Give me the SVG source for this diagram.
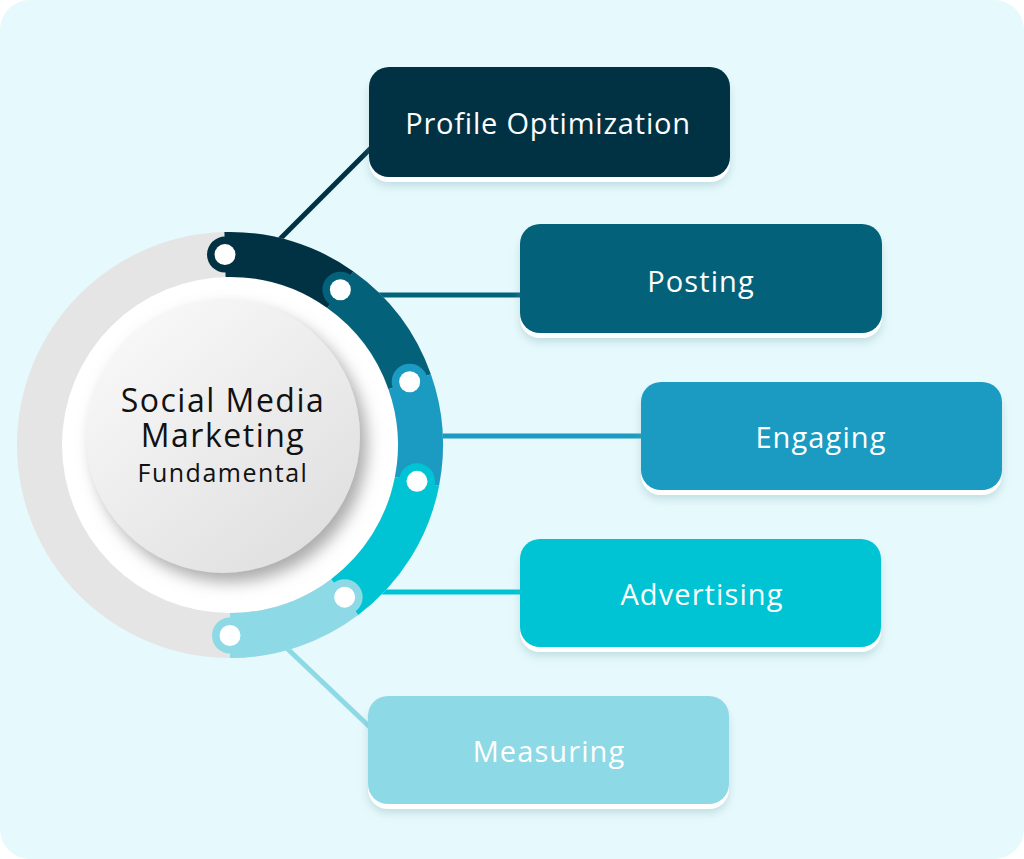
<svg xmlns="http://www.w3.org/2000/svg" width="1024" height="859" viewBox="0 0 1024 859">
  <defs>
    <style>
      .lbl { font-family: "Open Sans", "Liberation Sans", sans-serif; font-size: 29px; letter-spacing: 1.1px; fill: #ffffff; text-anchor: middle; }
      .ctr { font-family: "Open Sans", "Liberation Sans", sans-serif; fill: #111111; text-anchor: middle; letter-spacing: 1.5px; }
      .conn { fill: none; stroke-width: 5; }
      .seg { fill: none; stroke-width: 45; stroke-linecap: butt; }
      .dot { fill: #ffffff; }
    </style>
    <filter id="boxShadow" x="-10%" y="-20%" width="120%" height="150%">
      <feDropShadow dx="0" dy="4" stdDeviation="4" flood-color="#7aa8b0" flood-opacity="0.35"/>
    </filter>
    <filter id="discShadow" x="-20%" y="-20%" width="150%" height="150%">
      <feDropShadow dx="7" dy="9" stdDeviation="8" flood-color="#7d7d7d" flood-opacity="0.65"/>
    </filter>
    <linearGradient id="discGrad" x1="0.2" y1="0.1" x2="0.85" y2="0.9">
      <stop offset="0" stop-color="#f7f7f7"/>
      <stop offset="1" stop-color="#e0e0e0"/>
    </linearGradient>
  </defs>

  <rect x="0" y="0" width="1024" height="859" fill="#ffffff"/>
  <rect x="0" y="0" width="1024" height="859" rx="30" ry="30" fill="#e6f9fc"/>

  <g id="connectors">
    <line class="conn" x1="268" y1="251" x2="374" y2="145" stroke="#013243"/>
    <line class="conn" x1="370" y1="295" x2="526" y2="295" stroke="#03627a"/>
    <line class="conn" x1="420" y1="436" x2="646" y2="436" stroke="#1b9bc1"/>
    <line class="conn" x1="370" y1="592" x2="526" y2="592" stroke="#00c4d4"/>
    <line class="conn" x1="274" y1="636" x2="374" y2="731" stroke="#8dd9e6"/>
  </g>

  <g id="hub">
    <circle cx="230" cy="445" r="213" fill="#e5e5e5"/>
    <circle cx="230" cy="445" r="168" fill="#ffffff"/>
    <path class="seg" stroke="#013243" d="M225.01,254.57 A190.5,190.5 0 0 1 340.36,289.72"/>
    <circle cx="225.01" cy="254.57" r="18" fill="#013243"/>
    <path class="seg" stroke="#03627a" d="M340.36,289.72 A190.5,190.5 0 0 1 409.68,381.72"/>
    <circle cx="340.36" cy="289.72" r="18" fill="#03627a"/>
    <path class="seg" stroke="#1b9bc1" d="M409.68,381.72 A190.5,190.5 0 0 1 417.0,481.35"/>
    <circle cx="409.68" cy="381.72" r="18" fill="#1b9bc1"/>
    <path class="seg" stroke="#00c4d4" d="M417.0,481.35 A190.5,190.5 0 0 1 344.64,597.14"/>
    <circle cx="417.0" cy="481.35" r="18" fill="#00c4d4"/>
    <path class="seg" stroke="#8dd9e6" d="M344.64,597.14 A190.5,190.5 0 0 1 230,635.5"/>
    <circle cx="344.64" cy="597.14" r="18" fill="#8dd9e6"/>
    <circle cx="230" cy="635.5" r="18" fill="#8dd9e6"/>
    <circle class="dot" cx="225.01" cy="254.57" r="10.5"/>
    <circle class="dot" cx="340.36" cy="289.72" r="10.5"/>
    <circle class="dot" cx="409.68" cy="381.72" r="10.5"/>
    <circle class="dot" cx="417.0" cy="481.35" r="10.5"/>
    <circle class="dot" cx="344.64" cy="597.14" r="10.5"/>
    <circle class="dot" cx="230" cy="635.5" r="10.5"/>
    <circle cx="223" cy="436" r="137" fill="url(#discGrad)" filter="url(#discShadow)"/>
    <text class="ctr" x="223" y="412" font-size="32">Social Media</text>
    <text class="ctr" x="223" y="447" font-size="32">Marketing</text>
    <text class="ctr" x="223" y="482" font-size="25">Fundamental</text>
  </g>

  <g id="node-profile">
    <rect x="369" y="72" width="361" height="110" rx="20" fill="#ffffff" filter="url(#boxShadow)"/>
    <rect x="369" y="67" width="361" height="110" rx="20" fill="#013243"/>
    <text class="lbl" x="548" y="134" style="letter-spacing:0.8px">Profile Optimization</text>
  </g>
  <g id="node-posting">
    <rect x="520" y="229" width="362" height="109" rx="20" fill="#ffffff" filter="url(#boxShadow)"/>
    <rect x="520" y="224" width="362" height="109" rx="20" fill="#03627a"/>
    <text class="lbl" x="701" y="292">Posting</text>
  </g>
  <g id="node-engaging">
    <rect x="641" y="387" width="361" height="108" rx="20" fill="#ffffff" filter="url(#boxShadow)"/>
    <rect x="641" y="382" width="361" height="108" rx="20" fill="#1b9bc1"/>
    <text class="lbl" x="821" y="448">Engaging</text>
  </g>
  <g id="node-advertising">
    <rect x="520" y="544" width="361" height="108" rx="20" fill="#ffffff" filter="url(#boxShadow)"/>
    <rect x="520" y="539" width="361" height="108" rx="20" fill="#00c4d4"/>
    <text class="lbl" x="702" y="605">Advertising</text>
  </g>
  <g id="node-measuring">
    <rect x="368" y="701" width="361" height="108" rx="20" fill="#ffffff" filter="url(#boxShadow)"/>
    <rect x="368" y="696" width="361" height="108" rx="20" fill="#8dd9e6"/>
    <text class="lbl" x="549" y="762">Measuring</text>
  </g>
</svg>
